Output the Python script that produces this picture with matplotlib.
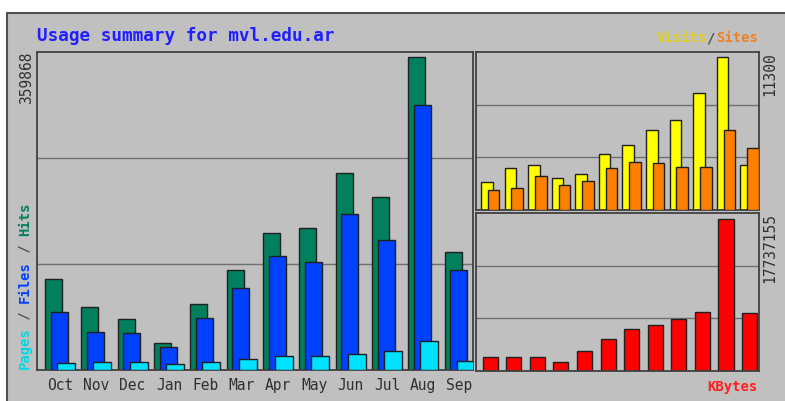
import numpy as np
import matplotlib
matplotlib.use("Agg")
import matplotlib.pyplot as plt
from matplotlib.patches import Rectangle

# monthly values
months = ['Oct', 'Nov', 'Dec', 'Jan', 'Feb', 'Mar', 'Apr', 'May', 'Jun', 'Jul', 'Aug', 'Sep']
hits = [104600, 72800, 58300, 31400, 75500, 115000, 157900, 162900, 226100, 198500, 359868, 135300]
files = [67000, 44000, 42900, 26800, 60100, 93900, 131100, 124500, 179400, 149500, 304700, 115000]
pages = [7700, 9500, 9500, 6600, 9500, 12300, 16100, 16100, 18000, 21800, 33700, 10700]
visits = [2080, 3130, 3330, 2400, 2630, 4130, 4830, 5880, 6660, 8660, 11300, 3330]
sites = [1500, 1630, 2530, 1830, 2150, 3130, 3580, 3460, 3200, 3200, 5880, 4580]
kbytes = [1690000, 1690000, 1690000, 1100000, 2360000, 3740000, 4920000, 5310000,
          6100000, 6880000, 17737155, 6730000]

W, H = 785, 401
BG = '#c0c0c0'
EDGE = '#202020'
GRID = '#707070'
MONO = 'DejaVu Sans Mono'

fig = plt.figure(figsize=(W / 100, H / 100), dpi=100)
fig.patch.set_facecolor('white')

# outer grey panel with dark frame
fig.patches.append(Rectangle((7 / W, -0.01), 1.0, 1 - 13 / H + 0.01, transform=fig.transFigure,
                             facecolor=BG, edgecolor='#505050', linewidth=1.5, zorder=-10))


def make_ax(x0, y0, x1, y1):
    ax = fig.add_axes([x0 / W, 1 - y1 / H, (x1 - x0) / W, (y1 - y0) / H])
    ax.set_facecolor(BG)
    for s in ax.spines.values():
        s.set_color('#404040')
        s.set_linewidth(1.3)
    ax.set_xticks([])
    ax.set_yticks([])
    ax.set_xlim(0, 12)
    return ax


def grid(ax, top):
    for f in (1 / 3, 2 / 3):
        ax.axhline(top * f, color=GRID, lw=1, zorder=1)


x = np.arange(12)

# left panel: hits / files / pages
ax1 = make_ax(37, 52, 473, 370)
top1 = max(hits) * 318 / 313
ax1.set_ylim(0, top1)
grid(ax1, top1)
ax1.bar(x + 0.22, hits, width=0.47, align='edge', color='#00805c', edgecolor=EDGE, lw=1, zorder=2)
ax1.bar(x + 0.377, files, width=0.47, align='edge', color='#0040ff', edgecolor=EDGE, lw=1, zorder=3)
ax1.bar(x + 0.55, pages, width=0.5, align='edge', color='#00e0ff', edgecolor=EDGE, lw=1, zorder=4)

# right top: visits / sites
ax2 = make_ax(476, 52, 759, 210)
top2 = max(visits) * 158 / 153
ax2.set_ylim(0, top2)
grid(ax2, top2)
ax2.bar(x + 0.21, visits, width=0.49, align='edge', color='#ffff00', edgecolor=EDGE, lw=1, zorder=2)
ax2.bar(x + 0.5, sites, width=0.49, align='edge', color='#ff8000', edgecolor=EDGE, lw=1, zorder=3)

# right bottom: kbytes
ax3 = make_ax(476, 213, 759, 371)
top3 = max(kbytes) * 158 / 152
ax3.set_ylim(0, top3)
grid(ax3, top3)
ax3.bar(x + 0.28, kbytes, width=0.64, align='edge', color='#ff0000', edgecolor=EDGE, lw=1, zorder=2)

# month labels under the left panel
for i, m in enumerate(months):
    ax1.text(i + 0.63, -0.05, m, transform=ax1.get_xaxis_transform(), ha='center', va='center',
             family=MONO, fontsize=10.5, color='#303030')

# texts
fig.text(37 / W, 1 - 36 / H, 'Usage summary for mvl.edu.ar', family=MONO, fontweight='bold',
         fontsize=12.7, color='#2020ff', ha='left', va='center')

fig.text(27 / W, 1 - 52 / H, str(max(hits)), rotation=90, family=MONO, fontsize=10.5,
         color='#303030', ha='center', va='top')
fig.text(770 / W, 1 - 52 / H, str(max(visits)), rotation=90, family=MONO, fontsize=10.5,
         color='#303030', ha='center', va='top')
fig.text(770 / W, 1 - 213 / H, str(max(kbytes)), rotation=90, family=MONO, fontsize=10.5,
         color='#303030', ha='center', va='top')

# Pages / Files / Hits, stacked bottom-to-top
parts = [('Pages', '#00d8e8'), (' / ', '#505050'), ('Files', '#0040ff'), (' / ', '#505050'), ('Hits', '#00805c')]
cw = 8.3
y = 369
for txt, col in parts:
    fig.text(25 / W, 1 - y / H, txt, rotation=90, family=MONO, fontweight='bold', fontsize=10,
             color=col, ha='center', va='bottom')
    y -= cw * len(txt)

# Visits / Sites, right aligned
parts = [('Visits', '#e0d020'), ('/', '#505050'), ('Sites', '#f08020')]
xr = 758
for txt, col in reversed(parts):
    fig.text(xr / W, 1 - 38 / H, txt, family=MONO, fontweight='bold', fontsize=10,
             color=col, ha='right', va='center')
    xr -= 8.6 * len(txt)

fig.text(758 / W, 1 - 387 / H, 'KBytes', family=MONO, fontweight='bold', fontsize=10,
         color='#ff2020', ha='right', va='center')

fig.savefig('out.png', dpi=100, facecolor=fig.get_facecolor())
